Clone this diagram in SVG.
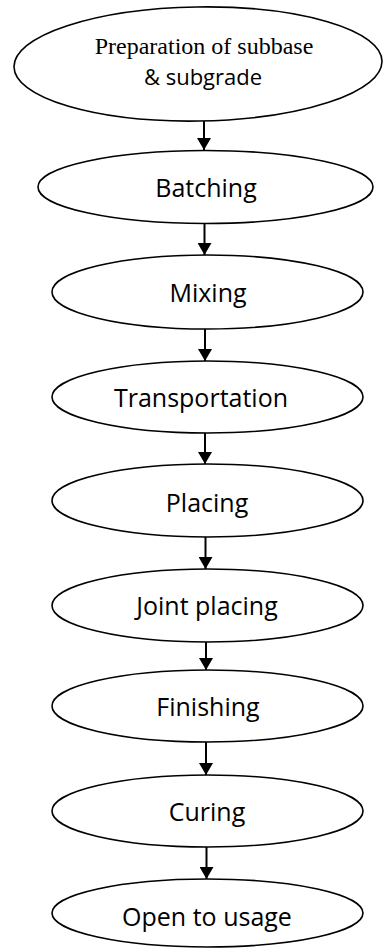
<svg xmlns="http://www.w3.org/2000/svg" width="383" height="948" viewBox="0 0 383 948">
  <defs>
    <marker id="arrowhead" markerUnits="userSpaceOnUse" markerWidth="12" markerHeight="14" refX="12" refY="7" orient="auto" viewBox="0 0 12 14">
      <path d="M0,0 L12,7 L0,14 Z" fill="#000"/>
    </marker>
  </defs>
  <style>
    .shape { fill: #fff; stroke: #000; stroke-width: 1.6; }
    .label { font-family: "Open Sans", "Noto Sans", sans-serif; font-size: 25px; fill: #000; text-anchor: middle; }
    .serif { font-family: "Liberation Serif", "Times New Roman", serif; font-size: 24px; fill: #000; text-anchor: middle; }
    .link { stroke: #000; stroke-width: 2; fill: none; }
  </style>
  <rect width="383" height="948" fill="#fff"/>

  <!-- connectors -->
  <g id="connectors">
    <line class="link" x1="204" y1="121" x2="204" y2="150" marker-end="url(#arrowhead)"/>
    <line class="link" x1="204.5" y1="223" x2="204.5" y2="255" marker-end="url(#arrowhead)"/>
    <line class="link" x1="205" y1="329" x2="205" y2="361" marker-end="url(#arrowhead)"/>
    <line class="link" x1="205" y1="433" x2="205" y2="464" marker-end="url(#arrowhead)"/>
    <line class="link" x1="205.5" y1="537" x2="205.5" y2="569" marker-end="url(#arrowhead)"/>
    <line class="link" x1="206" y1="642" x2="206" y2="670" marker-end="url(#arrowhead)"/>
    <line class="link" x1="206" y1="742" x2="206" y2="775" marker-end="url(#arrowhead)"/>
    <line class="link" x1="206.5" y1="847" x2="206.5" y2="879" marker-end="url(#arrowhead)"/>
  </g>

  <!-- process steps -->
  <g id="node-preparation">
    <ellipse class="shape" cx="198" cy="64" rx="184" ry="57" transform="rotate(-0.9 198 64)"/>
    <text class="serif" x="204" y="54">Preparation of subbase</text>
    <text class="label" x="203" y="85" style="font-size:22px">&amp; subgrade</text>
  </g>
  <g id="node-batching">
    <ellipse class="shape" cx="205.5" cy="187" rx="167.5" ry="36.5"/>
    <text class="label" x="206" y="197">Batching</text>
  </g>
  <g id="node-mixing">
    <ellipse class="shape" cx="207.5" cy="292" rx="155.5" ry="37"/>
    <text class="label" x="208" y="302">Mixing</text>
  </g>
  <g id="node-transportation">
    <ellipse class="shape" cx="207.5" cy="397" rx="155.5" ry="36"/>
    <text class="label" x="201" y="407">Transportation</text>
  </g>
  <g id="node-placing">
    <ellipse class="shape" cx="207.5" cy="500.5" rx="155.5" ry="36.5"/>
    <text class="label" x="207" y="512">Placing</text>
  </g>
  <g id="node-joint-placing">
    <ellipse class="shape" cx="207.5" cy="605.5" rx="155.5" ry="36.5"/>
    <text class="label" x="207" y="615">Joint placing</text>
  </g>
  <g id="node-finishing">
    <ellipse class="shape" cx="207.5" cy="706" rx="155.5" ry="36"/>
    <text class="label" x="208" y="716">Finishing</text>
  </g>
  <g id="node-curing">
    <ellipse class="shape" cx="207.5" cy="811" rx="155.5" ry="36"/>
    <text class="label" x="207" y="821">Curing</text>
  </g>
  <g id="node-open">
    <ellipse class="shape" cx="207.5" cy="913" rx="155.5" ry="34"/>
    <text class="label" x="207" y="926">Open to usage</text>
  </g>
</svg>
